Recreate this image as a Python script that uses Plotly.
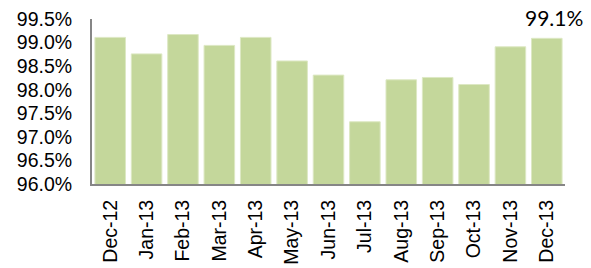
import plotly.graph_objects as go

months = ["Dec-12", "Jan-13", "Feb-13", "Mar-13", "Apr-13", "May-13", "Jun-13",
          "Jul-13", "Aug-13", "Sep-13", "Oct-13", "Nov-13", "Dec-13"]
values = [99.11, 98.76, 99.17, 98.94, 99.11, 98.61, 98.31,
          97.32, 98.21, 98.26, 98.11, 98.91, 99.09]
last_label = "99.1%"
y_ticks = [96.0, 96.5, 97.0, 97.5, 98.0, 98.5, 99.0, 99.5]
y_tick_text = ["96.0%", "96.5%", "97.0%", "97.5%", "98.0%", "98.5%", "99.0%", "99.5%"]

fig = go.Figure()
fig.add_trace(go.Bar(
    x=months, y=values, base=0,
    marker=dict(color="#C4D79B", line=dict(color="#DDE8C4", width=1)),
))
fig.add_annotation(x=months[-1], y=values[-1], text=last_label, showarrow=False,
                   yanchor="bottom", xanchor="center", xshift=7, yshift=6,
                   font=dict(family="Lato", size=21, color="#000000"))
fig.update_layout(
    width=591, height=268,
    margin=dict(l=92, r=26, t=19, b=84),
    paper_bgcolor="white", plot_bgcolor="white",
    bargap=0.16, showlegend=False,
    font=dict(family="Liberation Sans", size=18, color="#000000"),
)
fig.update_xaxes(showline=True, linecolor="#868686", linewidth=2, tickangle=-90,
                 ticks="", showgrid=False, tickfont=dict(size=19.5),
                 range=[-0.5, len(months) - 0.5],
                 automargin=False, ticklabelstandoff=6)
fig.update_yaxes(range=[96.0, 99.5], tickvals=y_ticks, ticktext=y_tick_text,
                 showline=True, linecolor="#868686", linewidth=2, showgrid=False,
                 ticks="", zeroline=False, tickfont=dict(size=19.5),
                 automargin=False, ticklabelstandoff=14)
fig.write_html("out.html", config={"displayModeBar": False},
               post_script="document.body.style.margin='0';")
